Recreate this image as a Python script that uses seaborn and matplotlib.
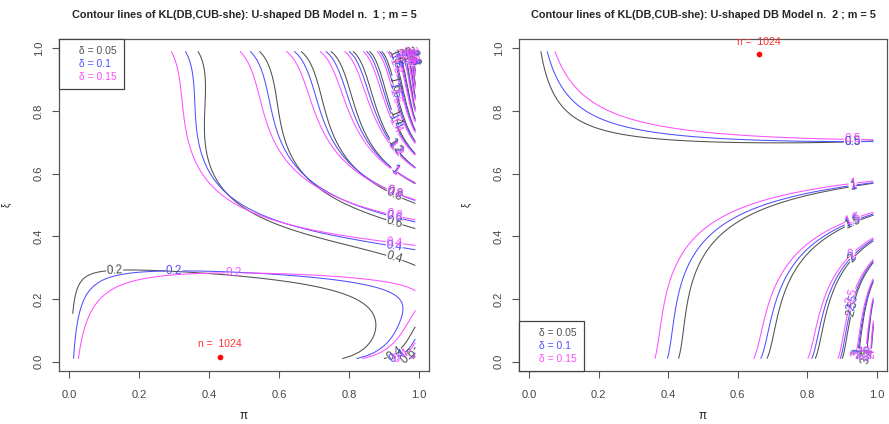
import numpy as np
import matplotlib
matplotlib.use("Agg")
import matplotlib.pyplot as plt
import seaborn as sns
import pandas as pd

# ---------------- data ----------------
m = 5
deltas = [0.05, 0.1, 0.15]
delta_labels = ["\u03b4 = 0.05", "\u03b4 = 0.1", "\u03b4 = 0.15"]
# U-shaped discretized-beta (DB) models: probabilities of categories 1..m
db_model1 = [0.21, 0.105, 0.085, 0.14, 0.46]
db_model2 = [0.67, 0.13, 0.06, 0.05, 0.09]
shelter1 = 1
shelter2 = 5
levels1 = [0.2, 0.4, 0.6, 0.8, 1.0, 1.2, 1.4, 1.6, 1.8, 2.0, 2.2, 2.4, 2.6, 2.8, 3.0, 3.2, 3.4, 3.6]
levels2 = [0.5, 1.0, 1.5, 2.0, 2.5, 3.0, 3.5, 4.0, 4.5, 5.0, 5.5, 6.0]
grid_pi = np.round(np.arange(1, 100) / 100.0, 2)
grid_xi = np.round(np.arange(1, 100) / 100.0, 2)
best_pi = [0.43, 0.66]
best_xi = [0.015, 0.98]
n_label = "n =  1024"
titles = ["Contour lines of KL(DB,CUB-she): U-shaped DB Model n.  1 ; m = 5",
          "Contour lines of KL(DB,CUB-she): U-shaped DB Model n.  2 ; m = 5"]
ticks = [0.0, 0.2, 0.4, 0.6, 0.8, 1.0]
tick_labels = ["0.0", "0.2", "0.4", "0.6", "0.8", "1.0"]

colors = ["#505050", "#5050ff", "#ff50ff"]
# where along pi the contour labels sit (R puts most of them near the right end)
label_x = 0.93
label_x_first1 = [0.13, 0.30, 0.47]  # the 0.2 lines of model 1, one per delta


def kl_field(p, c, delta):
    p = np.asarray(p, dtype=float)
    r = np.arange(1, m + 1)
    comb = np.array([1, 4, 6, 4, 1], dtype=float)
    PI, XI = np.meshgrid(grid_pi, grid_xi)
    kl = np.zeros_like(PI)
    for k in range(m):
        b = comb[k] * XI ** (m - r[k]) * (1 - XI) ** (r[k] - 1)
        q = (1 - delta) * (PI * b + (1 - PI) / m) + delta * (1.0 if r[k] == c else 0.0)
        kl += p[k] * np.log(p[k] / q)
    return PI, XI, kl


def label_positions(cs, first_x=None):
    pos = []
    for li, segs in enumerate(cs.allsegs):
        for seg in segs:
            if len(seg) < 6:
                continue
            if li == 0 and first_x is not None:
                if not (seg[:, 0].min() <= first_x <= seg[:, 0].max()):
                    continue
                xt = first_x
            else:
                xt = min(label_x, seg[:, 0].max() - 0.03)
            j = int(np.argmin(np.abs(seg[:, 0] - xt)))
            j = min(max(j, 2), len(seg) - 3)
            pos.append((seg[j, 0], seg[j, 1]))
    return pos


sns.set_style("white")
plt.rcParams["font.family"] = ["Liberation Sans", "DejaVu Sans"]

fig = plt.figure(figsize=(8.89, 4.24), dpi=100)
ax1 = fig.add_axes([0.0664, 0.125, 0.4162, 0.783])
ax2 = fig.add_axes([0.5838, 0.125, 0.4140, 0.783])

panels = [(ax1, db_model1, shelter1, levels1), (ax2, db_model2, shelter2, levels2)]

for i, (ax, p, c, lev) in enumerate(panels):
    for k, (d, col) in enumerate(zip(deltas, colors)):
        PI, XI, kl = kl_field(p, c, d)
        cs = ax.contour(PI, XI, kl, levels=lev, colors=col, linewidths=0.75)
        fx = label_x_first1[k] if i == 0 else None
        try:
            ax.clabel(cs, inline=True, fontsize=8.5, fmt="%g", inline_spacing=1,
                      manual=label_positions(cs, fx))
        except Exception:
            ax.clabel(cs, inline=True, fontsize=8.5, fmt="%g", inline_spacing=1)
    pts = pd.DataFrame({"pi": [best_pi[i]], "xi": [best_xi[i]]})
    sns.scatterplot(data=pts, x="pi", y="xi", ax=ax, color="red", s=14, edgecolor="red", zorder=5)
    ax.text(best_pi[i], best_xi[i] + 0.025, n_label, color="#ff3030", fontsize=7.5, ha="center", va="bottom")
    ax.set_xlim(-0.0292, 1.0292)
    ax.set_ylim(-0.0292, 1.0292)
    ax.set_xticks(ticks)
    ax.set_xticklabels(tick_labels)
    ax.set_yticks(ticks)
    ax.set_yticklabels(tick_labels, rotation=90, va="center")
    ax.tick_params(axis="both", direction="out", length=5, width=0.8, color="#555555",
                   labelsize=8, labelcolor="#444444", bottom=True, left=True, pad=6)
    ax.tick_params(axis="x", pad=9)
    for s in ax.spines.values():
        s.set_color("#555555")
        s.set_linewidth(0.9)
    ax.set_xlabel("\u03c0", fontsize=8.5, labelpad=7, color="#222222")
    ax.set_ylabel("\u03be", fontsize=7, labelpad=16, color="#222222")
    ax.set_title(titles[i], fontsize=7.8, fontweight="bold", pad=15)

# legends (text only, R style)
common = dict(labelcolor=colors, fontsize=7.5, handlelength=0, handletextpad=1.22,
              borderaxespad=0, fancybox=False, edgecolor="#444444", framealpha=1,
              borderpad=0.7, labelspacing=0.25)
leg1 = ax1.legend(handles=[plt.Line2D([], [], linestyle="none") for _ in deltas], labels=delta_labels,
                  loc="upper left", **common)
leg1.get_frame().set_linewidth(0.9)
leg2 = ax2.legend(handles=[plt.Line2D([], [], linestyle="none") for _ in deltas], labels=delta_labels,
                  loc="lower left", **common)
leg2.get_frame().set_linewidth(0.9)

fig.savefig("out.png", dpi=100)
